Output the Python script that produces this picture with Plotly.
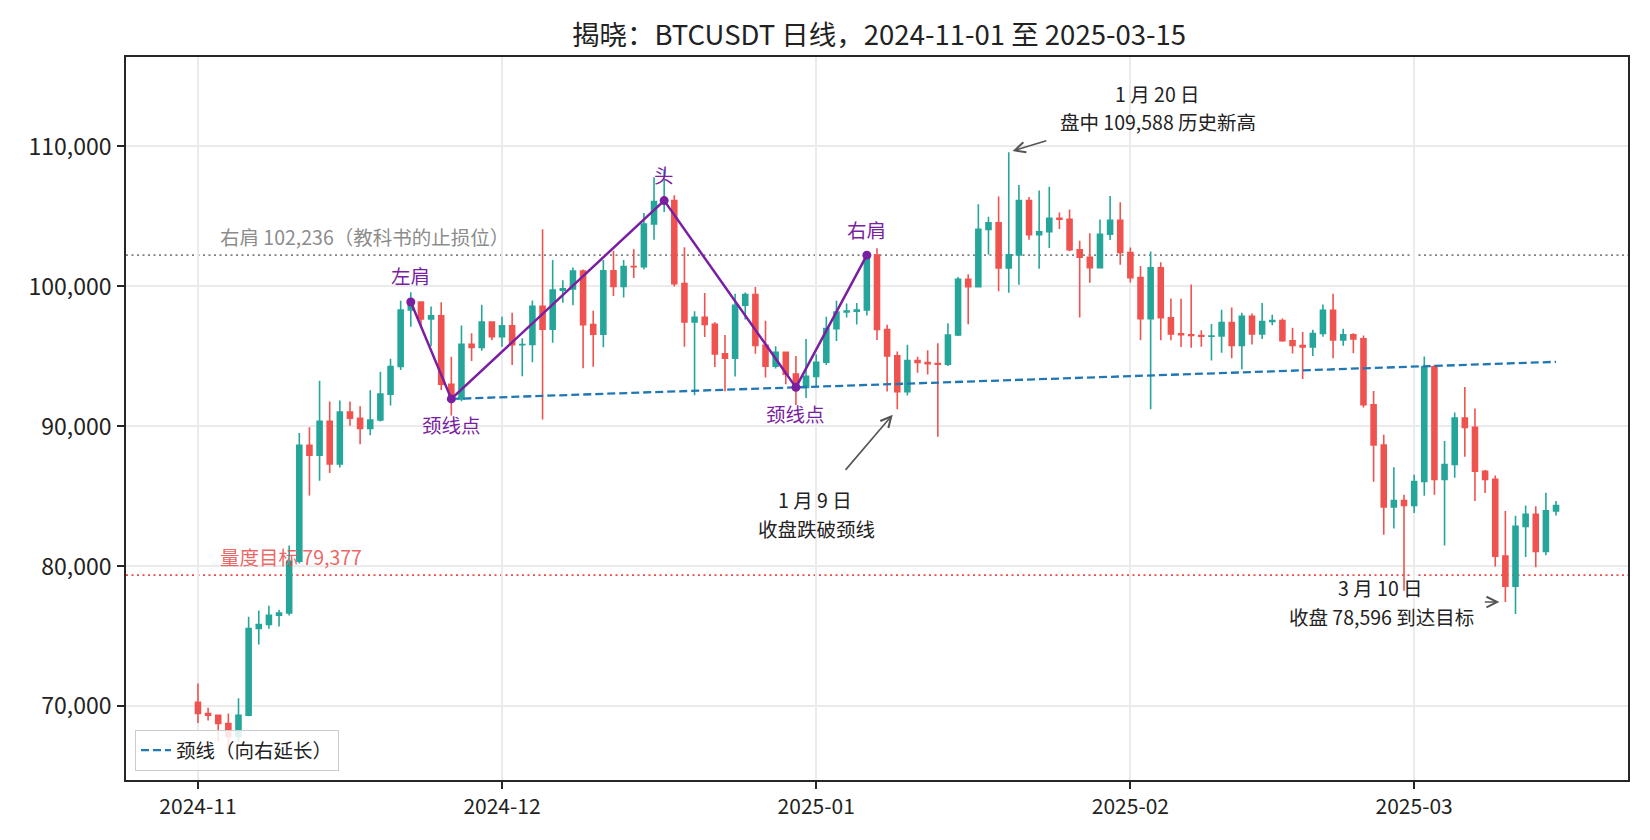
import pandas as pd
import plotly.graph_objects as go

# ---------------- data ----------------
START = "2024-11-01"
END = "2025-03-15"
dates = pd.date_range(START, END, freq="D")

opens = [
    # Nov
    70292, 69496, 69374, 68775, 67850, 69372, 75571, 75857, 76509, 76677,
    80370, 88648, 87952, 90375, 87325, 91032, 90587, 89855, 90465, 92310,
    94286, 98318, 98892, 97672, 97900, 93010, 91965, 95864, 95643, 97460,
    # Dec
    96407, 97185, 95840, 95849, 98587, 96945, 99740, 99831, 101109, 97276,
    96593, 101126, 100004, 101424, 101420, 104463, 106058, 106133, 100204, 97462,
    97805, 97292, 95186, 94881, 98663, 99429, 95791, 94299, 95300, 93738,
    92792,
    # Jan
    93576, 94592, 96985, 98174, 98236, 98314, 102236, 96922, 95043, 92484,
    94701, 94566, 94488, 94450, 96534, 100505, 99987, 104078, 104556, 101331,
    102260, 106144, 103706, 103910, 104871, 104797, 102620, 102082, 101335, 103733,
    104722,
    # Feb
    102429, 100635, 97700, 101328, 97763, 96613, 96555, 96500, 96444, 96462,
    97430, 95778, 97868, 96608, 97500, 97569, 96118, 95780, 95671, 96644,
    98305, 96181, 96551, 96258, 91552, 88680, 84250, 84708,
    # Mar
    84350, 86064, 94270, 86221, 87281, 90606, 89931, 86801, 86222, 80735,
    78596, 82862, 83722, 81067, 83968,
]
highs = [
    71632, 69914, 69391, 69500, 70577, 76400, 76849, 77199, 76900, 81500,
    89530, 89940, 93265, 91790, 91850, 91779, 91449, 92594, 93905, 94831,
    98988, 99588, 98908, 98564, 98871, 94973, 97208, 96650, 98693, 97463,
    97836, 98130, 96305, 99000, 104088, 101898, 100439, 101351, 101215, 98270,
    101888, 102540, 101895, 102650, 105250, 107793, 108353, 106524, 102800, 98233,
    99540, 97448, 96538, 99487, 99569, 99963, 97544, 95733, 95340, 95024,
    96250,
    95151, 97839, 98976, 98778, 98813, 102482, 102724, 97258, 95349, 95836,
    94977, 95450, 95940, 97371, 100681, 100873, 105865, 104988, 106422, 109588,
    107240, 106394, 106850, 107120, 105286, 105500, 103260, 103800, 104782, 106457,
    106012,
    102783, 101456, 102500, 101723, 99149, 99120, 100137, 96880, 97323, 98345,
    98500, 98119, 98076, 98826, 97972, 97704, 97046, 96753, 96899, 98711,
    99475, 96980, 96650, 96500, 92540, 89414, 87078, 85120,
    86558, 95000, 94416, 88967, 91000, 92810, 91283, 86897, 86500, 83955,
    83617, 84359, 84300, 85263, 84672,
]
lows = [
    68820, 69000, 67478, 66835, 67458, 69298, 74416, 75555, 75714, 76492,
    80216, 85072, 86127, 86668, 87073, 90056, 88722, 89376, 90357, 91500,
    94040, 97122, 97136, 95734, 92600, 90791, 91792, 94677, 95407, 96150,
    95693, 94395, 93578, 94587, 90500, 95981, 98844, 98657, 94150, 94256,
    95658, 99311, 99205, 100609, 101237, 103333, 105321, 100000, 95700, 92232,
    96398, 94250, 92520, 93569, 97632, 95199, 93500, 94135, 93009, 91530,
    92033,
    92888, 94392, 96100, 97781, 97291, 97926, 96181, 92500, 91220, 92206,
    93840, 93712, 89256, 94310, 96464, 97300, 99950, 102277, 99651, 99550,
    100119, 103339, 101262, 102750, 104106, 102520, 97777, 100273, 101328, 103320,
    101560,
    100279, 96150, 91231, 96150, 96155, 95676, 95620, 95688, 94713, 95256,
    94876, 94088, 95862, 96252, 97223, 96046, 95205, 93388, 95029, 96415,
    94871, 95770, 95227, 91350, 86050, 82256, 82716, 78258,
    83824, 85050, 85117, 81500, 86334, 87836, 84667, 85248, 80000, 77459,
    76606, 80667, 79939, 80797, 83639,
]
closes = [
    69496, 69374, 68775, 67850, 69372, 75571, 75857, 76509, 76677, 80370,
    88647, 87952, 90375, 87325, 91032, 90586, 89855, 90464, 92310, 94286,
    98317, 98892, 97672, 97900, 93010, 91965, 95863, 95643, 97460, 96407,
    97185, 95840, 95849, 98587, 96945, 99740, 99831, 101109, 97276, 96593,
    101125, 100004, 101424, 101420, 104463, 106058, 106133, 100204, 97462, 97805,
    97291, 95186, 94881, 98663, 99429, 95791, 94299, 95300, 93738, 92792,
    93576,
    94591, 96985, 98174, 98236, 98314, 102236, 96922, 95043, 92484, 94701,
    94566, 94488, 94450, 96534, 100505, 99987, 104078, 104556, 101331, 102260,
    106143, 103706, 103910, 104871, 104797, 102620, 102082, 101335, 103733, 104722,
    102429,
    100635, 97700, 101328, 97763, 96612, 96555, 96500, 96444, 96462, 97430,
    95778, 97869, 96608, 97500, 97569, 96118, 95780, 95671, 96644, 98305,
    96181, 96551, 96258, 91552, 88680, 84250, 84708, 84350,
    86064, 94270, 86220, 87281, 90607, 89931, 86801, 86222, 80734, 78596,
    82862, 83722, 81067, 83969, 84343,
]

PATTERN_DATES = ["2024-11-22", "2024-11-26", "2024-12-17", "2024-12-30", "2025-01-06"]
PATTERN_LABELS = ["左肩", "颈线点", "头", "颈线点", "右肩"]
NECK_DATES = ["2024-11-26", "2024-12-30"]

RIGHT_SHOULDER = 102236
TARGET = 79377
ATH_DATE = "2025-01-20"
BREAK_DATE = "2025-01-09"
HIT_DATE = "2025-03-10"

TICK_MONTHS = ["2024-11-01", "2024-12-01", "2025-01-01", "2025-02-01", "2025-03-01"]
TICK_MONTH_TEXT = ["2024-11", "2024-12", "2025-01", "2025-02", "2025-03"]
Y_TICKS = [70000, 80000, 90000, 100000, 110000]

TITLE = "揭晓：BTCUSDT 日线，2024-11-01 至 2025-03-15"

# ---------------- helpers ----------------
FONT = "Noto Sans CJK SC"
UP = "#26a69a"
DOWN = "#ef5350"
PURPLE = "#7b1fa2"
ANN_SIZE = 19.5
idx = {d.strftime("%Y-%m-%d"): i for i, d in enumerate(dates)}

def close_at(d):
    return closes[idx[d]]

# neckline extension
n0, n1 = NECK_DATES
d0, d1 = pd.Timestamp(n0), pd.Timestamp(n1)
v0, v1 = close_at(n0), close_at(n1)
slope = (v1 - v0) / (d1 - d0).days
d_end = pd.Timestamp(END)
v_end = v0 + slope * (d_end - d0).days

fig = go.Figure()

fig.add_trace(go.Candlestick(
    x=dates, open=opens, high=highs, low=lows, close=closes,
    increasing=dict(line=dict(color=UP, width=1.6), fillcolor=UP),
    decreasing=dict(line=dict(color=DOWN, width=1.6), fillcolor=DOWN),
    whiskerwidth=0, showlegend=False, hoverinfo="skip",
))

fig.add_trace(go.Scatter(
    x=[d0, d_end], y=[v0, v_end], mode="lines",
    line=dict(color="#1f77b4", width=2.3, dash="8px,4px"),
    name="颈线（向右延长）", showlegend=True,
))

fig.add_trace(go.Scatter(
    x=pd.to_datetime(PATTERN_DATES), y=[close_at(d) for d in PATTERN_DATES],
    mode="lines+markers",
    line=dict(color=PURPLE, width=2.5),
    marker=dict(color=PURPLE, size=9),
    showlegend=False, hoverinfo="skip",
))

annotations = []
for d, lab in zip(PATTERN_DATES, PATTERN_LABELS):
    below = lab == "颈线点"
    annotations.append(dict(
        x=pd.Timestamp(d), y=close_at(d), xref="x", yref="y", text=lab,
        showarrow=False, xanchor="center", yanchor="middle",
        yshift=-26 if below else 26,
        font=dict(family=FONT, size=ANN_SIZE, color=PURPLE),
    ))

# horizontal reference lines
shapes = [
    dict(type="line", xref="paper", x0=0, x1=1, yref="y", y0=RIGHT_SHOULDER, y1=RIGHT_SHOULDER,
         line=dict(color="#808080", width=1.7, dash="2px,3.5px"), layer="below"),
    dict(type="line", xref="paper", x0=0, x1=1, yref="y", y0=TARGET, y1=TARGET,
         line=dict(color="#ea4a4a", width=1.7, dash="2px,3.5px"), layer="below"),
]
label_x = pd.Timestamp(START) + pd.Timedelta(days=2)
annotations.append(dict(
    x=label_x, y=RIGHT_SHOULDER, xref="x", yref="y",
    text=f"右肩 {RIGHT_SHOULDER:,}（教科书的止损位）", showarrow=False,
    xanchor="left", yanchor="bottom", yshift=2,
    font=dict(family=FONT, size=ANN_SIZE, color="#8c8c8c"),
))
annotations.append(dict(
    x=label_x, y=TARGET, xref="x", yref="y",
    text=f"量度目标 {TARGET:,}", showarrow=False,
    xanchor="left", yanchor="bottom", yshift=2,
    font=dict(family=FONT, size=ANN_SIZE, color="rgba(234,74,74,0.85)"),
))

def arrow_note(d, yv, ax, ay, standoff, lines):
    t = pd.Timestamp(d)
    annotations.append(dict(
        x=t, y=yv, xref="x", yref="y", text="", showarrow=True,
        ax=ax, ay=ay, axref="pixel", ayref="pixel", standoff=standoff,
        arrowhead=5, arrowsize=1.3, arrowwidth=1.6, arrowcolor="#555555",
    ))
    for txt, xs, ys in lines:
        annotations.append(dict(
            x=t, y=yv, xref="x", yref="y", text=txt, showarrow=False,
            xanchor="center", yanchor="middle", xshift=xs, yshift=ys,
            font=dict(family=FONT, size=ANN_SIZE, color="#222222"),
        ))

ath_i = idx[ATH_DATE]
brk_i = idx[BREAK_DATE]
hit_i = idx[HIT_DATE]
arrow_note(ATH_DATE, highs[ath_i], 39, -12, 4, [
    ("1 月 20 日", 149, 59),
    (f"盘中 {highs[ath_i]:,} 历史新高", 149, 31),
])
arrow_note(BREAK_DATE, lows[brk_i], -53, 62, 7, [
    ("1 月 9 日", -82, -90),
    ("收盘跌破颈线", -81, -119),
])
arrow_note(HIT_DATE, lows[hit_i], -22, 0, 6, [
    ("3 月 10 日", -125, 15),
    (f"收盘 {closes[hit_i]:,} 到达目标", -124, -14),
])

x0 = pd.Timestamp(START) - pd.Timedelta(days=7.1)
x1 = pd.Timestamp(START) + pd.Timedelta(days=141.1)

axis_common = dict(
    showgrid=True, gridcolor="#ebebeb", gridwidth=1.5,
    showline=True, linecolor="#262626", linewidth=1.7, mirror=True,
    ticks="outside", ticklen=7, tickwidth=1.6, tickcolor="#262626",
    zeroline=False,
)

# page body has an 8px default margin: the figure is sized to fit the window
FIG_W, FIG_H = 1634, 824
fig.update_layout(
    width=FIG_W, height=FIG_H,
    margin=dict(l=118, r=14, t=49, b=48),
    plot_bgcolor="white", paper_bgcolor="white",
    font=dict(family=FONT, color="#222222"),
    title=dict(text=TITLE, x=(879 - 8) / FIG_W, xanchor="center", y=1 - 27 / FIG_H,
               yanchor="middle", yref="container",
               font=dict(family=FONT, size=27.5, color="#222222")),
    xaxis=dict(type="date", range=[x0, x1], tickvals=pd.to_datetime(TICK_MONTHS),
               ticktext=TICK_MONTH_TEXT, rangeslider=dict(visible=False),
               ticklabelstandoff=0,
               tickfont=dict(family=FONT, size=21, color="#222222"), **axis_common),
    yaxis=dict(range=[64744, 116392], tickvals=Y_TICKS,
               ticktext=[f"{v:,}" for v in Y_TICKS], ticklabelstandoff=1,
               tickfont=dict(family=FONT, size=23, color="#222222"), **axis_common),
    legend=dict(x=0.006, y=0.0124, xanchor="left", yanchor="bottom",
                bgcolor="rgba(255,255,255,0.85)", bordercolor="#cccccc", borderwidth=1,
                font=dict(family=FONT, size=ANN_SIZE, color="#222222")),
    shapes=shapes,
    annotations=annotations,
    hovermode=False,
)

fig.write_html("out.html")
